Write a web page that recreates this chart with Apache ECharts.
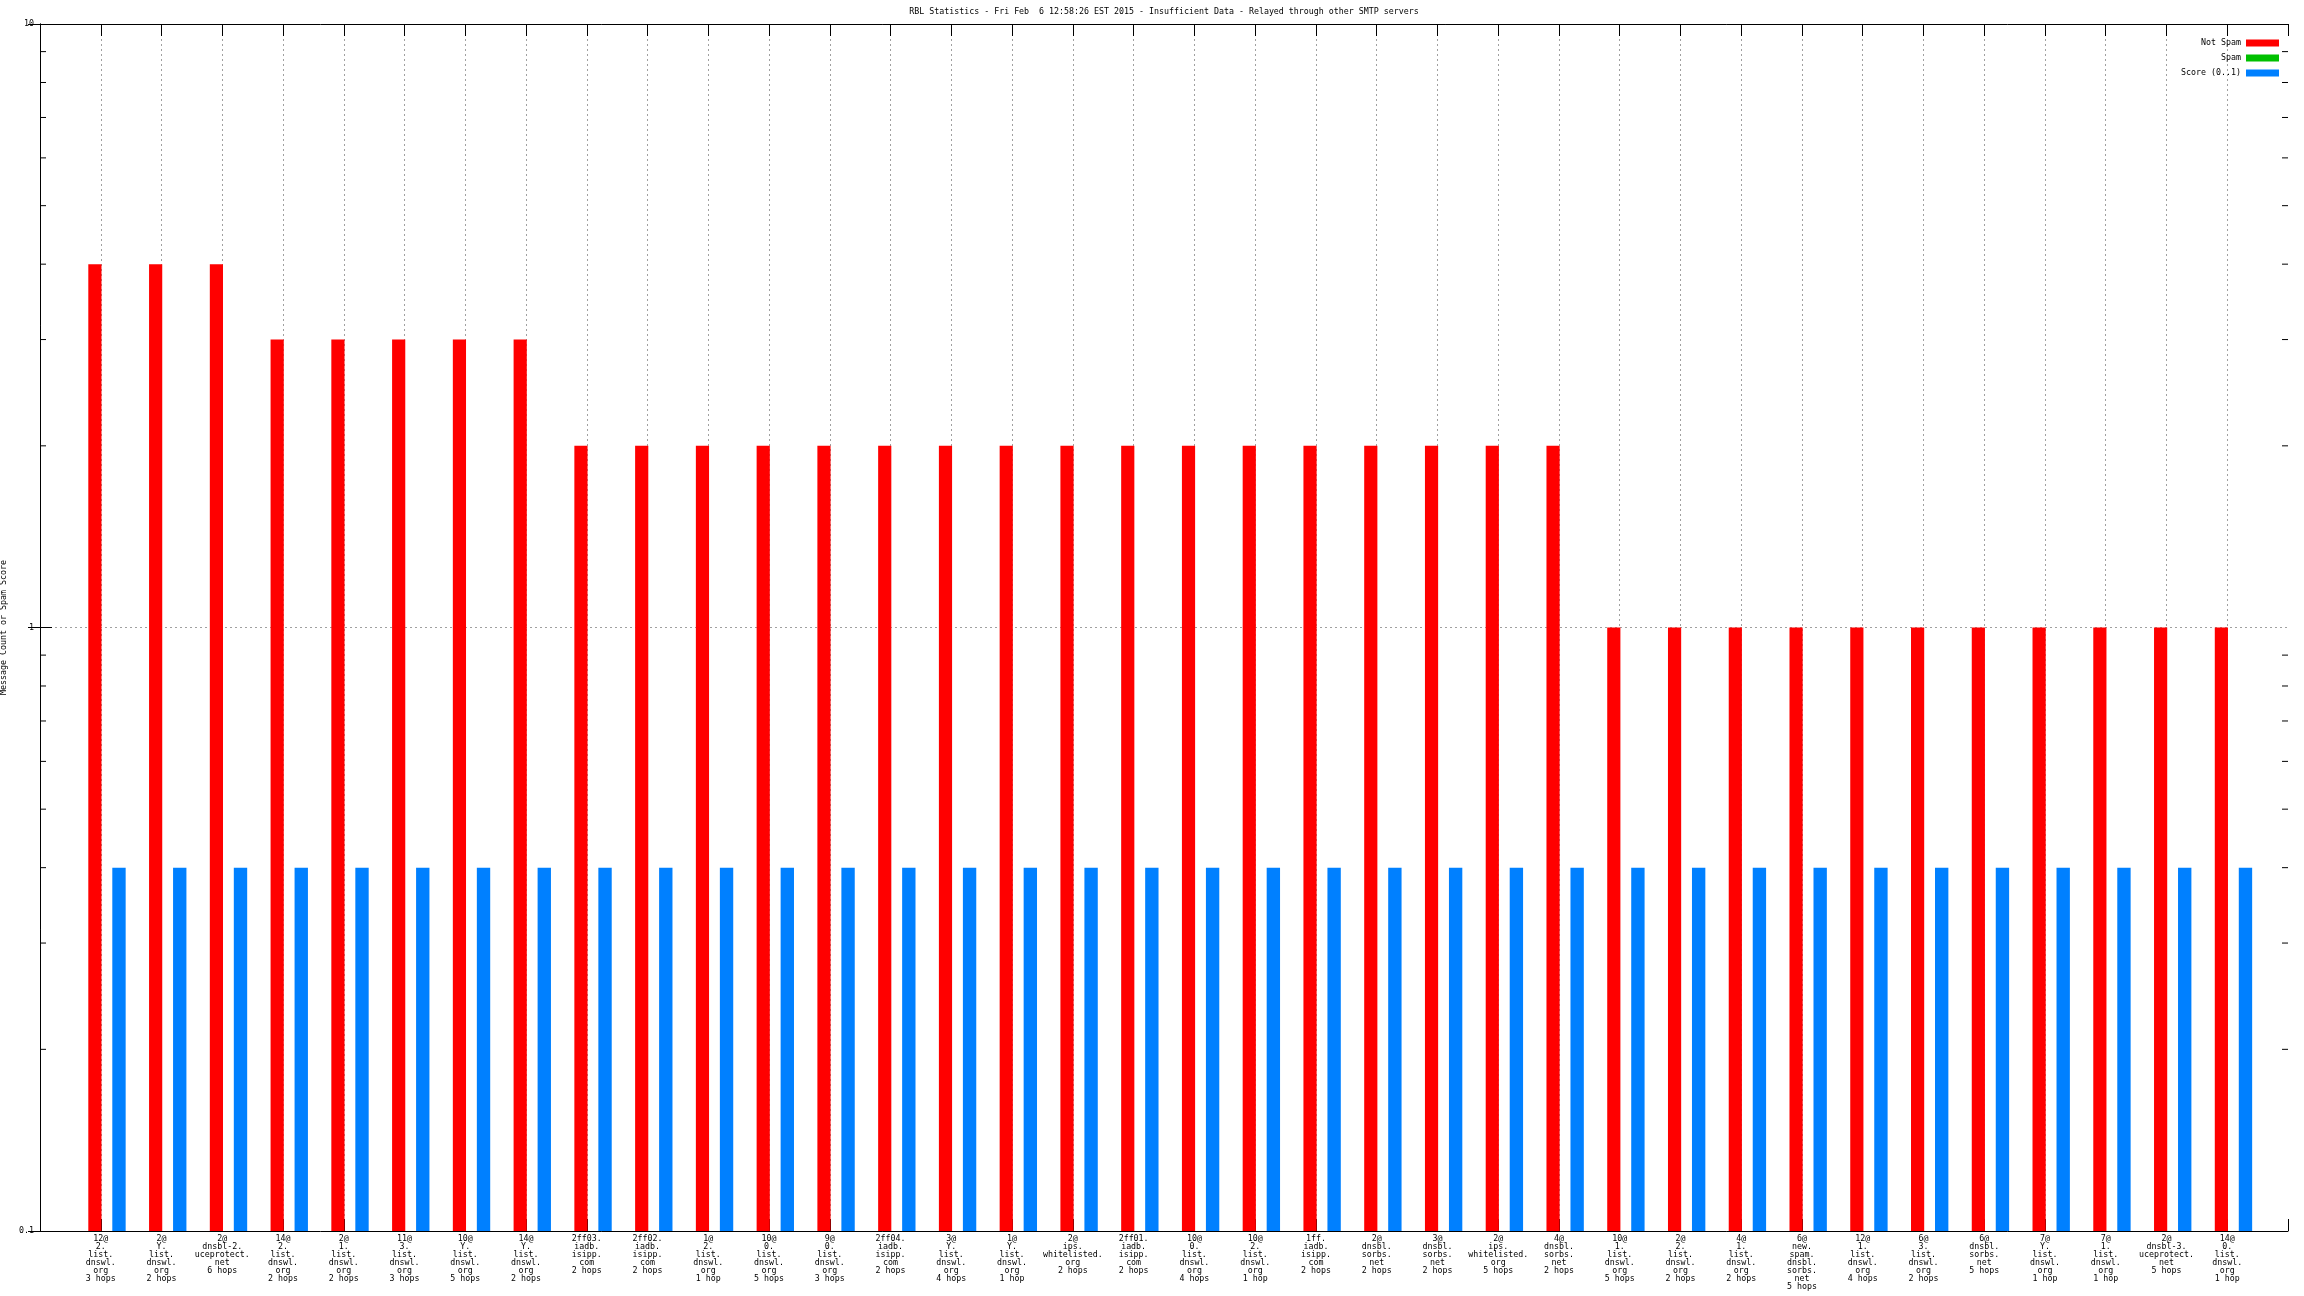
<!DOCTYPE html>
<html>
<head>
<meta charset="utf-8">
<script src="https://cdn.jsdelivr.net/npm/echarts@6/dist/echarts.min.js"></script>
<style>
html,body{margin:0;padding:0;background:#fff;}
#chart{width:2304px;height:1296px;}
</style>
</head>
<body>
<div id="chart"></div>
<script>
const titleText = 'RBL Statistics - Fri Feb  6 12:58:26 EST 2015 - Insufficient Data - Relayed through other SMTP servers';
const yAxisTitle = 'Message Count or Spam Score';
const seriesNames = ['Not Spam', 'Spam', 'Score (0..1)'];
const seriesColors = ['#ff0000', '#00c000', '#0080ff'];

const categories = [
  '12@\n2.\nlist.\ndnswl.\norg\n3 hops',
  '2@\nY.\nlist.\ndnswl.\norg\n2 hops',
  '2@\ndnsbl-2.\nuceprotect.\nnet\n6 hops',
  '14@\n2.\nlist.\ndnswl.\norg\n2 hops',
  '2@\n1.\nlist.\ndnswl.\norg\n2 hops',
  '11@\n3.\nlist.\ndnswl.\norg\n3 hops',
  '10@\nY.\nlist.\ndnswl.\norg\n5 hops',
  '14@\nY.\nlist.\ndnswl.\norg\n2 hops',
  '2ff03.\niadb.\nisipp.\ncom\n2 hops',
  '2ff02.\niadb.\nisipp.\ncom\n2 hops',
  '1@\n2.\nlist.\ndnswl.\norg\n1 hop',
  '10@\n0.\nlist.\ndnswl.\norg\n5 hops',
  '9@\n0.\nlist.\ndnswl.\norg\n3 hops',
  '2ff04.\niadb.\nisipp.\ncom\n2 hops',
  '3@\nY.\nlist.\ndnswl.\norg\n4 hops',
  '1@\nY.\nlist.\ndnswl.\norg\n1 hop',
  '2@\nips.\nwhitelisted.\norg\n2 hops',
  '2ff01.\niadb.\nisipp.\ncom\n2 hops',
  '10@\n0.\nlist.\ndnswl.\norg\n4 hops',
  '10@\n2.\nlist.\ndnswl.\norg\n1 hop',
  '1ff.\niadb.\nisipp.\ncom\n2 hops',
  '2@\ndnsbl.\nsorbs.\nnet\n2 hops',
  '3@\ndnsbl.\nsorbs.\nnet\n2 hops',
  '2@\nips.\nwhitelisted.\norg\n5 hops',
  '4@\ndnsbl.\nsorbs.\nnet\n2 hops',
  '10@\n1.\nlist.\ndnswl.\norg\n5 hops',
  '2@\n2.\nlist.\ndnswl.\norg\n2 hops',
  '4@\n1.\nlist.\ndnswl.\norg\n2 hops',
  '6@\nnew.\nspam.\ndnsbl.\nsorbs.\nnet\n5 hops',
  '12@\n1.\nlist.\ndnswl.\norg\n4 hops',
  '6@\n3.\nlist.\ndnswl.\norg\n2 hops',
  '6@\ndnsbl.\nsorbs.\nnet\n5 hops',
  '7@\nY.\nlist.\ndnswl.\norg\n1 hop',
  '7@\n1.\nlist.\ndnswl.\norg\n1 hop',
  '2@\ndnsbl-3.\nuceprotect.\nnet\n5 hops',
  '14@\n0.\nlist.\ndnswl.\norg\n1 hop'
];

const notSpam = [4,4,4,3,3,3,3,3,2,2,2,2,2,2,2,2,2,2,2,2,2,2,2,2,2,1,1,1,1,1,1,1,1,1,1,1];
const spam    = [0,0,0,0,0,0,0,0,0,0,0,0,0,0,0,0,0,0,0,0,0,0,0,0,0,0,0,0,0,0,0,0,0,0,0,0];
const score   = [0.4,0.4,0.4,0.4,0.4,0.4,0.4,0.4,0.4,0.4,0.4,0.4,0.4,0.4,0.4,0.4,0.4,0.4,0.4,0.4,0.4,0.4,0.4,0.4,0.4,0.4,0.4,0.4,0.4,0.4,0.4,0.4,0.4,0.4,0.4,0.4];

const yMin = 0.1, yMax = 10;
const minorTickValues = [0.2,0.3,0.4,0.5,0.6,0.7,0.8,0.9,2,3,4,5,6,7,8,9];

const FONT = 'DejaVu Sans Mono';
const FS = 8.3;
const chart = echarts.init(document.getElementById('chart'), null, {renderer: 'canvas'});

function toData(arr) { return arr.map((v, i) => [i + 1, v]); }

function barRenderer(off0, off1, color) {
  return function (params, api) {
    const x = api.value(0), v = api.value(1);
    if (!(v > 0)) return null;
    const p0 = api.coord([x + off0, v]);
    const p1 = api.coord([x + off1, yMin]);
    return {
      type: 'rect',
      shape: {x: p0[0], y: p0[1], width: p1[0] - p0[0], height: p1[1] - p0[1]},
      style: {fill: color}
    };
  };
}

const lineStyleGrid = {color: '#a0a0a0', width: 1, type: [2, 3]};

const option = {
  animation: false,
  backgroundColor: '#ffffff',
  title: {
    text: titleText,
    left: '50.52%',
    textAlign: 'center',
    top: 8,
    padding: 0,
    textStyle: {fontFamily: FONT, fontSize: FS, fontWeight: 'normal', color: '#000'}
  },
  legend: seriesNames.map((n, k) => ({
    data: [n],
    orient: 'vertical',
    right: 25,
    top: 39 + k * 15,
    align: 'right',
    padding: 0,
    itemWidth: 33,
    itemHeight: 7,
    itemGap: 0,
    icon: 'rect',
    selectedMode: false,
    textStyle: {fontFamily: FONT, fontSize: FS, color: '#000', lineHeight: 8}
  })),
  grid: {left: 40, right: 16, top: 24, bottom: 65, containLabel: false, outerBoundsMode: 'none'},
  xAxis: [{
    type: 'value', position: 'bottom', min: 0, max: categories.length + 1, interval: 1,
    axisLine: {show: true, lineStyle: {color: '#000', width: 1}},
    axisTick: {show: true, inside: true, length: 12, lineStyle: {color: '#000'}},
    axisLabel: {
      margin: 4, fontFamily: FONT, fontSize: FS, lineHeight: 8, color: '#000', align: 'center',
      formatter: function (v) { const i = Math.round(v) - 1; return (i >= 0 && i < categories.length) ? categories[i] : ''; }
    },
    splitLine: {show: true, showMinLine: false, showMaxLine: false, lineStyle: lineStyleGrid}
  }, {
    type: 'value', position: 'top', min: 0, max: categories.length + 1, interval: 1,
    axisLine: {show: true, lineStyle: {color: '#000', width: 1}},
    axisTick: {show: true, inside: true, length: 12, lineStyle: {color: '#000'}},
    axisLabel: {show: false},
    splitLine: {show: false}
  }],
  yAxis: [{
    type: 'log', logBase: 10, min: yMin, max: yMax, position: 'left',
    name: yAxisTitle, nameLocation: 'middle', nameRotate: 90, nameGap: 27,
    nameTextStyle: {fontFamily: FONT, fontSize: FS, color: '#000'},
    axisLine: {show: true, lineStyle: {color: '#000', width: 1}},
    axisTick: {show: true, inside: true, length: 12, lineStyle: {color: '#000'}},
    axisLabel: {margin: 6, fontFamily: FONT, fontSize: FS, color: '#000'},
    splitLine: {show: true, showMinLine: false, showMaxLine: false, lineStyle: lineStyleGrid}
  }, {
    type: 'log', logBase: 10, min: yMin, max: yMax, position: 'right',
    axisLine: {show: true, lineStyle: {color: '#000', width: 1}},
    axisTick: {show: true, inside: true, length: 12, lineStyle: {color: '#000'}},
    axisLabel: {show: false},
    splitLine: {show: false}
  }],
  series: [
    {
      name: seriesNames[0], type: 'custom', xAxisIndex: 0, yAxisIndex: 0,
      itemStyle: {color: seriesColors[0]}, z: 3,
      renderItem: barRenderer(-0.205, 0.012, seriesColors[0]),
      data: toData(notSpam)
    },
    {
      name: seriesNames[1], type: 'custom', xAxisIndex: 0, yAxisIndex: 0,
      itemStyle: {color: seriesColors[1]}, z: 3,
      renderItem: barRenderer(-0.005, 0.205, seriesColors[1]),
      data: toData(spam)
    },
    {
      name: seriesNames[2], type: 'custom', xAxisIndex: 0, yAxisIndex: 0,
      itemStyle: {color: seriesColors[2]}, z: 3,
      renderItem: barRenderer(0.19, 0.41, seriesColors[2]),
      data: toData(score)
    },
    {
      name: 'minorTicks', type: 'custom', xAxisIndex: 0, yAxisIndex: 0, silent: true, z: 4,
      renderItem: function (params, api) {
        const cs = params.coordSys;
        const y = api.coord([0, api.value(0)])[1];
        return {
          type: 'group',
          children: [
            {type: 'line', shape: {x1: cs.x, y1: y, x2: cs.x + 6, y2: y}, style: {stroke: '#000', lineWidth: 1}},
            {type: 'line', shape: {x1: cs.x + cs.width - 6, y1: y, x2: cs.x + cs.width, y2: y}, style: {stroke: '#000', lineWidth: 1}}
          ]
        };
      },
      encode: {y: 0},
      data: minorTickValues.map(v => [v])
    }
  ]
};
chart.setOption(option);
</script>
</body>
</html>
